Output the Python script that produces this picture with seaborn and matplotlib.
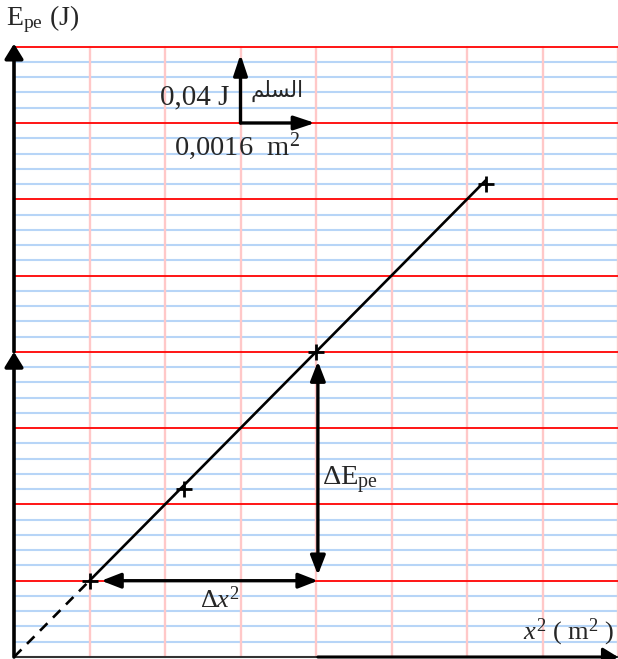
import matplotlib
matplotlib.use("Agg")
import matplotlib.pyplot as plt
import seaborn as sns
import pandas as pd

# Measurements: squared extension x^2 (m^2) and elastic potential energy E_pe (J)
x2_values = [0.0016, 0.0036, 0.0064, 0.0100]
epe_values = [0.040, 0.088, 0.160, 0.248]

# Graph-paper scale: one big square = 0.0016 m^2 horizontally, 0.04 J vertically
x_unit = 0.0016
y_unit = 0.04
n_big = 8
n_small = 5

sns.set_style("white")
plt.rcParams["font.family"] = ["Liberation Serif", "DejaVu Sans"]
plt.rcParams["mathtext.fontset"] = "custom"
plt.rcParams["mathtext.rm"] = "Liberation Serif"
plt.rcParams["mathtext.it"] = "Liberation Serif:italic"

W, H = 618, 659
fig = plt.figure(figsize=(W / 100, H / 100), dpi=100)
ax = fig.add_axes([14 / W, 2 / H, (W - 14) / W, (657 - 46.7) / H])
x_max = n_big * x_unit
y_max = n_big * y_unit
ax.set_xlim(0, x_max)
ax.set_ylim(0, y_max)

# graph paper: fine blue rules, red rules every big square, pink verticals
for k in range(n_big * n_small):
    if k % n_small:
        ax.axhline(k * y_unit / n_small, color="#b7d5f7", lw=1.5, zorder=1)
for k in range(1, n_big + 1):
    ax.axvline(k * x_unit, color="#ffc8c8", lw=1.7, zorder=2, clip_on=False)
for k in range(1, n_big + 1):
    ax.axhline(k * y_unit, color="#ff1414", lw=1.4, zorder=3, clip_on=False)

df = pd.DataFrame({"x2": x2_values, "epe": epe_values})

# slope from the two points used for the Δ construction
slope = (epe_values[2] - epe_values[0]) / (x2_values[2] - x2_values[0])
fit = pd.DataFrame({"x2": [x2_values[0], x2_values[-1]]})
fit["epe"] = slope * fit["x2"]
ext = pd.DataFrame({"x2": [0.0, x2_values[0]], "epe": [0.0, epe_values[0]]})

sns.lineplot(data=fit, x="x2", y="epe", color="black", lw=1.9, ax=ax, zorder=5)
sns.lineplot(data=ext, x="x2", y="epe", color="black", lw=1.9, ax=ax, zorder=5,
             linestyle=(0, (4, 3)))
sns.scatterplot(data=df, x="x2", y="epe", marker="+", s=130, color="black",
                linewidth=2.0, ax=ax, zorder=6)

for s in ["top", "right", "left"]:
    ax.spines[s].set_visible(False)
ax.spines["bottom"].set_color("#333333")
ax.spines["bottom"].set_linewidth(1.5)
ax.set_xticks([])
ax.set_yticks([])
ax.set_xlabel("")
ax.set_ylabel("")

axis_head = dict(arrowstyle="-|>,head_length=0.65,head_width=0.4",
                 mutation_scale=14, color="black", lw=2.6,
                 shrinkA=0, shrinkB=0)
# vertical axis drawn in two arrowed pieces
ax.annotate("", xy=(0, 4 * y_unit), xytext=(0, 0),
            arrowprops=axis_head, annotation_clip=False, zorder=8)
ax.annotate("", xy=(0, y_max + 0.0016), xytext=(0, 4 * y_unit),
            arrowprops=axis_head, annotation_clip=False, zorder=8)
# horizontal axis arrow
ax.annotate("", xy=(x_max, 0), xytext=(4 * x_unit + 0.00004, 0),
            arrowprops=dict(axis_head, lw=2.2), annotation_clip=False, zorder=8)

# scale indicator
scale_head = dict(arrowstyle="-|>,head_length=0.9,head_width=0.3",
                  mutation_scale=14, color="black", lw=2.4,
                  shrinkA=0, shrinkB=0)
ax.annotate("", xy=(3 * x_unit, 8 * y_unit - 0.004), xytext=(3 * x_unit, 7 * y_unit),
            arrowprops=scale_head, annotation_clip=False, zorder=8)
ax.annotate("", xy=(4 * x_unit - 0.00002, 7 * y_unit), xytext=(3 * x_unit, 7 * y_unit),
            arrowprops=scale_head, annotation_clip=False, zorder=8)

# Δ construction
delta_head = dict(arrowstyle="<|-|>,head_length=0.9,head_width=0.35",
                  mutation_scale=13, color="black", lw=2.4,
                  shrinkA=0, shrinkB=0)
ax.annotate("", xy=(x2_values[2] + 0.00004, epe_values[2] - 0.005),
            xytext=(x2_values[2] + 0.00004, epe_values[0] + 0.003),
            arrowprops=delta_head, zorder=8)
ax.annotate("", xy=(x2_values[0] + 0.00025, epe_values[0]),
            xytext=(x2_values[2] + 0.00004, epe_values[0]),
            arrowprops=delta_head, zorder=8)

def px(x, y):
    return x / W, 1 - y / H

fig.text(*px(6, 19), r"E$_{\mathrm{pe}}$ (J)", fontsize=20, ha="left", va="center")
fig.text(*px(229, 97), "0,04 J", fontsize=21, ha="right", va="center")
fig.text(*px(277, 91), "\uFEE2\uFEE0\uFEB4\uFEDF\uFE8D", fontsize=15.5,
         family=["DejaVu Sans"], ha="center", va="center")
fig.text(*px(237, 146), r"0,0016  m$^2$", fontsize=20.5, ha="center", va="center")
fig.text(*px(322, 480), r"$\Delta$E$_{\mathrm{pe}}$", fontsize=20.5, ha="left", va="center")
fig.text(*px(200, 600), r"$\Delta\mathit{x}^2$", fontsize=19, ha="left", va="center")
fig.text(*px(615, 632), r"$\mathit{x}^2$ ( m$^2$ )", fontsize=19, ha="right", va="center")

fig.savefig("out.png", dpi=100)
